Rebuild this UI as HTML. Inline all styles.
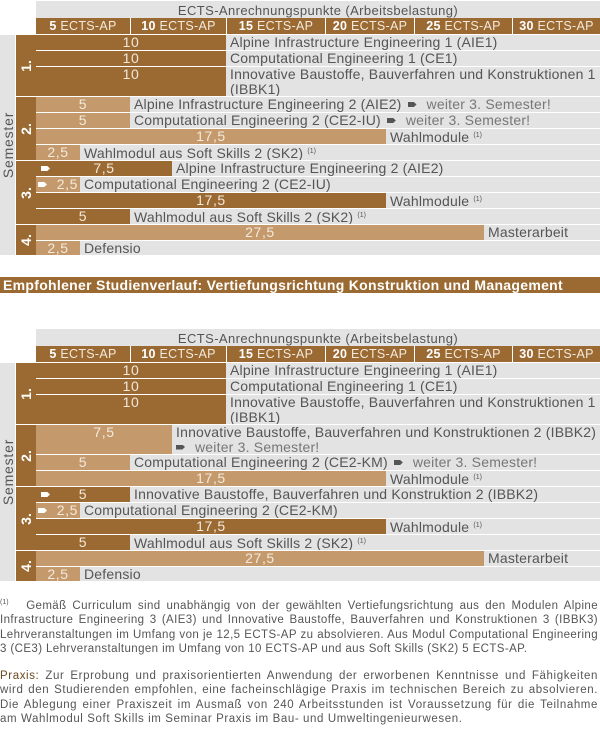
<!DOCTYPE html>
<html><head><meta charset="utf-8"><style>
*{margin:0;padding:0;box-sizing:border-box}
body{width:600px;height:732px;background:#fff;position:relative;font-family:"Liberation Sans",sans-serif;color:#555;overflow:hidden}
.h1{position:absolute;left:36px;width:564px;height:17px;background:#e3e3e3;text-align:center;font-size:13px;letter-spacing:0.4px;line-height:19px;color:#555}
.h2{position:absolute;height:16px;background:#9b6a32;color:#f3e9dc;font-size:12.5px;letter-spacing:0.3px;line-height:16px;text-align:center;white-space:nowrap;overflow:hidden}
.h2 b{color:#fff}
.r{position:absolute;left:36px;width:564px;background:#e3e3e3;font-size:14px;letter-spacing:0.2px;overflow:hidden}
.b{position:absolute;left:0;top:0;height:100%;text-align:center;line-height:15px;color:#f3e9dc;letter-spacing:0.6px}
.d{background:#9b6a32}.lt{background:#c49a6c}
.l{position:absolute;top:0;line-height:14.5px;white-space:nowrap;color:#555}
.ar{position:absolute;left:5px;top:5px;width:9px;height:5px;background:#fff;clip-path:polygon(0 0,70% 0,100% 50%,70% 100%,0 100%)}
.ia{display:inline-block;width:9px;height:5px;background:#555;clip-path:polygon(0 0,70% 0,100% 50%,70% 100%,0 100%);vertical-align:2px;margin:0 10px 0 6px}
.wt{color:#777}
sup{font-size:7px;vertical-align:5px;letter-spacing:0}
.sn{position:absolute;left:16px;width:20px;background:#9b6a32}
.sn span{position:absolute;left:50%;top:50%;transform:translate(-50%,-50%) rotate(-90deg);color:#fff;font-weight:bold;font-size:14px}
.sem{position:absolute;left:0;width:15px;background:#e3e3e3}
.sem span{position:absolute;left:50%;top:50%;transform:translate(-50%,-50%) rotate(-90deg);font-size:14px;letter-spacing:0.8px;white-space:nowrap;color:#555}
.title{position:absolute;left:0;top:277px;width:600px;height:16px;background:#9b6a32;color:#fff;font-weight:bold;font-size:14px;letter-spacing:0.3px;line-height:16px;padding-left:3px;white-space:nowrap}
.fn{position:absolute;left:0;width:598px;font-size:11.5px;letter-spacing:0.4px;line-height:14.3px;text-align:justify;color:#555}
</style></head><body>

<div class="h1" style="top:1px">ECTS-Anrechnungspunkte (Arbeitsbelastung)</div>
<div class="h2" style="left:36px;top:18px;width:94px"><b>5</b> ECTS-AP</div>
<div class="h2" style="left:131px;top:18px;width:95px"><b>10</b> ECTS-AP</div>
<div class="h2" style="left:227px;top:18px;width:98px"><b>15</b> ECTS-AP</div>
<div class="h2" style="left:326px;top:18px;width:88px"><b>20</b> ECTS-AP</div>
<div class="h2" style="left:415px;top:18px;width:97px"><b>25</b> ECTS-AP</div>
<div class="h2" style="left:513px;top:18px;width:87px"><b>30</b> ECTS-AP</div>

<div class="sem" style="top:35px;height:220px"><span>Semester</span></div>
<div class="sn" style="top:35px;height:61px"><span>1.</span></div>
<div class="sn" style="top:97px;height:63px"><span>2.</span></div>
<div class="sn" style="top:161px;height:63px"><span>3.</span></div>
<div class="sn" style="top:225px;height:30px"><span>4.</span></div>

<div class="r" style="top:35px;height:15px"><div class="b d" style="width:190px">10</div><div class="l" style="left:194px">Alpine Infrastructure Engineering 1 (AIE1)</div></div>
<div class="r" style="top:51px;height:15px"><div class="b d" style="width:190px">10</div><div class="l" style="left:194px">Computational Engineering 1 (CE1)</div></div>
<div class="r" style="top:67px;height:29px"><div class="b d" style="width:190px">10</div><div class="l" style="left:194px">Innovative Baustoffe, Bauverfahren und Konstruktionen 1<br>(IBBK1)</div></div>
<div class="r" style="top:97px;height:15px"><div class="b lt" style="width:94px">5</div><div class="l" style="left:98px">Alpine Infrastructure Engineering 2 (AIE2)<i class="ia"></i><span class="wt">weiter 3. Semester!</span></div></div>
<div class="r" style="top:113px;height:15px"><div class="b lt" style="width:94px">5</div><div class="l" style="left:98px">Computational Engineering 2 (CE2-IU)<i class="ia"></i><span class="wt">weiter 3. Semester!</span></div></div>
<div class="r" style="top:129px;height:15px"><div class="b lt" style="width:350px">17,5</div><div class="l" style="left:354px">Wahlmodule <sup>(1)</sup></div></div>
<div class="r" style="top:145px;height:15px"><div class="b lt" style="width:44px">2,5</div><div class="l" style="left:48px">Wahlmodul aus Soft Skills 2 (SK2) <sup>(1)</sup></div></div>
<div class="r" style="top:161px;height:15px"><div class="b d" style="width:136px">7,5<i class="ar"></i></div><div class="l" style="left:140px">Alpine Infrastructure Engineering 2 (AIE2)</div></div>
<div class="r" style="top:177px;height:15px"><div class="b lt" style="width:44px;text-align:right;padding-right:2px">2,5<i class="ar" style="left:2px"></i></div><div class="l" style="left:48px">Computational Engineering 2 (CE2-IU)</div></div>
<div class="r" style="top:193px;height:15px"><div class="b d" style="width:350px">17,5</div><div class="l" style="left:354px">Wahlmodule <sup>(1)</sup></div></div>
<div class="r" style="top:209px;height:15px"><div class="b d" style="width:94px">5</div><div class="l" style="left:98px">Wahlmodul aus Soft Skills 2 (SK2) <sup>(1)</sup></div></div>
<div class="r" style="top:225px;height:15px"><div class="b lt" style="width:448px">27,5</div><div class="l" style="left:452px">Masterarbeit</div></div>
<div class="r" style="top:241px;height:14px"><div class="b lt" style="width:44px">2,5</div><div class="l" style="left:48px">Defensio</div></div>

<div class="title">Empfohlener Studienverlauf: Vertiefungsrichtung Konstruktion und Management</div>

<div class="h1" style="top:329px">ECTS-Anrechnungspunkte (Arbeitsbelastung)</div>
<div class="h2" style="left:36px;top:346px;width:94px"><b>5</b> ECTS-AP</div>
<div class="h2" style="left:131px;top:346px;width:95px"><b>10</b> ECTS-AP</div>
<div class="h2" style="left:227px;top:346px;width:98px"><b>15</b> ECTS-AP</div>
<div class="h2" style="left:326px;top:346px;width:88px"><b>20</b> ECTS-AP</div>
<div class="h2" style="left:415px;top:346px;width:97px"><b>25</b> ECTS-AP</div>
<div class="h2" style="left:513px;top:346px;width:87px"><b>30</b> ECTS-AP</div>

<div class="sem" style="top:363px;height:218px"><span>Semester</span></div>
<div class="sn" style="top:363px;height:61px"><span>1.</span></div>
<div class="sn" style="top:425px;height:61px"><span>2.</span></div>
<div class="sn" style="top:487px;height:63px"><span>3.</span></div>
<div class="sn" style="top:551px;height:30px"><span>4.</span></div>

<div class="r" style="top:363px;height:15px"><div class="b d" style="width:190px">10</div><div class="l" style="left:194px">Alpine Infrastructure Engineering 1 (AIE1)</div></div>
<div class="r" style="top:379px;height:15px"><div class="b d" style="width:190px">10</div><div class="l" style="left:194px">Computational Engineering 1 (CE1)</div></div>
<div class="r" style="top:395px;height:29px"><div class="b d" style="width:190px">10</div><div class="l" style="left:194px">Innovative Baustoffe, Bauverfahren und Konstruktionen 1<br>(IBBK1)</div></div>
<div class="r" style="top:425px;height:29px"><div class="b lt" style="width:136px">7,5</div><div class="l" style="left:140px">Innovative Baustoffe, Bauverfahren und Konstruktionen 2 (IBBK2)<br><i class="ia" style="margin-left:0"></i><span class="wt">weiter 3. Semester!</span></div></div>
<div class="r" style="top:455px;height:15px"><div class="b lt" style="width:94px">5</div><div class="l" style="left:98px">Computational Engineering 2 (CE2-KM)<i class="ia"></i><span class="wt">weiter 3. Semester!</span></div></div>
<div class="r" style="top:471px;height:15px"><div class="b lt" style="width:350px">17,5</div><div class="l" style="left:354px">Wahlmodule <sup>(1)</sup></div></div>
<div class="r" style="top:487px;height:15px"><div class="b d" style="width:94px">5<i class="ar"></i></div><div class="l" style="left:98px">Innovative Baustoffe, Bauverfahren und Konstruktion 2 (IBBK2)</div></div>
<div class="r" style="top:503px;height:15px"><div class="b lt" style="width:44px;text-align:right;padding-right:2px">2,5<i class="ar" style="left:2px"></i></div><div class="l" style="left:48px">Computational Engineering 2 (CE2-KM)</div></div>
<div class="r" style="top:519px;height:15px"><div class="b d" style="width:350px">17,5</div><div class="l" style="left:354px">Wahlmodule <sup>(1)</sup></div></div>
<div class="r" style="top:535px;height:15px"><div class="b d" style="width:94px">5</div><div class="l" style="left:98px">Wahlmodul aus Soft Skills 2 (SK2) <sup>(1)</sup></div></div>
<div class="r" style="top:551px;height:15px"><div class="b lt" style="width:448px">27,5</div><div class="l" style="left:452px">Masterarbeit</div></div>
<div class="r" style="top:567px;height:14px"><div class="b lt" style="width:44px">2,5</div><div class="l" style="left:48px">Defensio</div></div>

<div class="fn" style="top:596px"><sup>(1)</sup>&nbsp;&nbsp; Gemäß Curriculum sind unabhängig von der gewählten Vertiefungsrichtung aus den Modulen Alpine Infrastructure Engineering 3 (AIE3) und Innovative Baustoffe, Bauverfahren und Konstruktionen 3 (IBBK3) Lehrveranstaltungen im Umfang von je 12,5 ECTS-AP zu absolvieren. Aus Modul Computational Engineering 3 (CE3) Lehrveranstaltungen im Umfang von 10 ECTS-AP und aus Soft Skills (SK2) 5 ECTS-AP.</div>
<div class="fn" style="top:669px;letter-spacing:0.6px"><span style="color:#6b4a22">Praxis:</span> Zur Erprobung und praxisorientierten Anwendung der erworbenen Kenntnisse und Fähigkeiten wird den Studierenden empfohlen, eine facheinschlägige Praxis im technischen Bereich zu absolvieren. Die Ablegung einer Praxiszeit im Ausmaß von 240 Arbeitsstunden ist Voraussetzung für die Teilnahme am Wahlmodul Soft Skills im Seminar Praxis im Bau- und Umweltingenieurwesen.</div>
</body></html>
